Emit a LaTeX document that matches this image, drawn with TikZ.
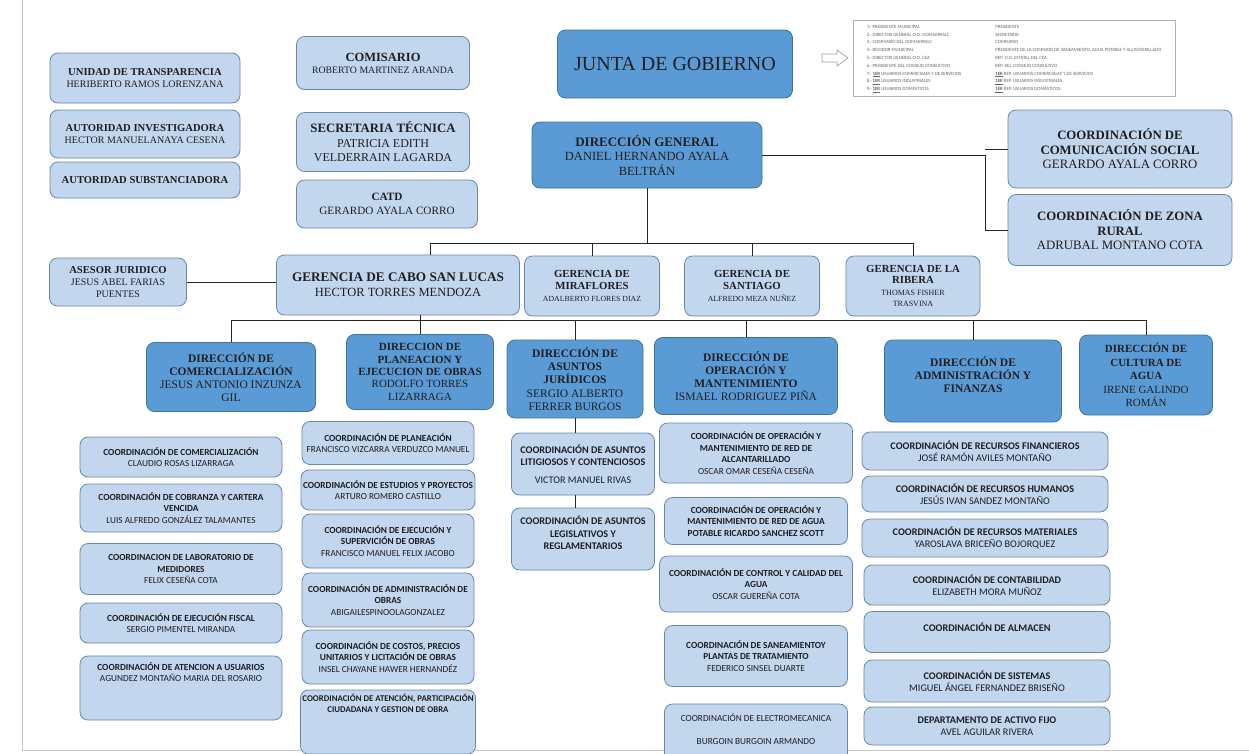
\documentclass[tikz,border=0pt]{standalone}
\usepackage{fontspec}
\setmainfont{Liberation Serif}
\newfontfamily\calib{Carlito}
\definecolor{lightfill}{RGB}{194,214,238}
\definecolor{lightline}{RGB}{105,135,172}
\definecolor{darkfill}{RGB}{91,155,213}
\definecolor{darkline}{RGB}{65,113,156}
\definecolor{ink}{RGB}{30,30,35}
\tikzset{
  lbox/.style={draw=lightline, fill=lightfill, rounded corners=8pt, align=center, inner sep=2pt, line width=0.8pt, text=ink},
  dbox/.style={draw=darkline, fill=darkfill, rounded corners=8pt, align=center, inner sep=2pt, line width=0.8pt, text=ink},
  cbox/.style={lbox, font=\calib\fontsize{9.3}{11.5}\selectfont},
  cboxb/.style={lbox, font=\calib\fontsize{10.2}{12.3}\selectfont},
  link/.style={draw=black!85, line width=0.9pt}
}
\newcommand{\fs}[2]{\fontsize{#1}{#2}\selectfont}
\begin{document}
\begin{tikzpicture}[x=1pt, y=-1pt]
    \useasboundingbox (0,0) rectangle (1249,753);
    \clip (0,0) rectangle (1249,753);
    \fill[white] (0,0) rectangle (1249,753);
    \draw[gray!45, line width=0.8pt] (22,0) -- (22,750) -- (1249,750);

    \node[lbox, minimum width=190pt, minimum height=50pt, font=\fs{10}{12}] (transp) at (145,78) {{\fs{10.6}{12}\textbf{UNIDAD DE TRANSPARENCIA}}\\HERIBERTO RAMOS LORENZANA};
    \node[lbox, minimum width=190pt, minimum height=48pt, font=\fs{10}{12}] (invest) at (145,134) {{\fs{10.6}{12}\textbf{AUTORIDAD INVESTIGADORA}}\\HECTOR MANUELANAYA CESENA};
    \node[lbox, minimum width=190pt, minimum height=36pt, font=\fs{10.6}{12}] (subst) at (145,180) {\textbf{AUTORIDAD SUBSTANCIADORA}};

    \node[lbox, minimum width=173pt, minimum height=53pt, font=\fs{9.8}{12}] (comis) at (383,63) {{\fs{12.5}{14}\textbf{COMISARIO}}\\ROBERTO MARTINEZ ARANDA};
    \node[lbox, minimum width=173pt, minimum height=59pt, font=\fs{12}{14.5}] (secre) at (383,142) {{\fs{12.8}{14.5}\textbf{SECRETARIA TÉCNICA}}\\PATRICIA EDITH\\VELDERRAIN LAGARDA};
    \node[lbox, minimum width=181pt, minimum height=48pt, font=\fs{11.2}{14}] (catd) at (387,204) {\textbf{CATD}\\GERARDO AYALA CORRO};

    \node[dbox, minimum width=235pt, minimum height=68pt, font=\fs{20}{24}] (junta) at (675,64) {JUNTA DE GOBIERNO};
    \draw[gray!75, fill=white, line width=0.7pt] (822,54) -- (837,54) -- (837,50) -- (848,58) -- (837,66) -- (837,62) -- (822,62) -- cycle;
    \node[draw=gray!60, fill=white, minimum width=322pt, minimum height=76pt, inner sep=3pt, text=gray!80!black, font=\calib\fs{4.8}{7.8}] (leyenda) at (1014,58) {%
      \begin{tabular}{@{}l@{\hspace{34pt}}l@{}}
      1.- PRESIDENTE MUNICIPAL & PRESIDENTE\\
      2.- DIRECTOR GENERAL O.O. OOMSAPASLC & SECRETARIO\\
      3.- COMISARIO DEL OOMSAPASLC & COMISARIO\\
      4.- REGIDOR MUNICIPAL & PRESIDENTE DE LA COMISION DE SANEAMIENTO, AGUA POTABLE Y ALCANTARILLADO\\
      5.- DIRECTOR GENERAL O.O. CEA & REP. O.O. ESTATAL DEL CEA\\
      6.- PRESIDENTE DEL CONSEJO CONSULTIVO & REP. DEL CONSEJO CONSULTIVO\\
      7.- \underline{\textbf{1ER}} USUARIOS COMERCIALES Y DE SERVICIOS & \underline{\textbf{1ER}} REP. USUARIOS COMERCIALES Y DE SERVICIOS\\
      8.- \underline{\textbf{1ER}} USUARIOS INDUSTRIALES & \underline{\textbf{1ER}} REP. USUARIOS INDUSTRIALES\\
      9.- \underline{\textbf{1ER}} USUARIOS DOMESTICOS & \underline{\textbf{1ER}} REP. USUARIOS DOMESTICOS
      \end{tabular}};

    \node[dbox, minimum width=230pt, minimum height=66pt, font=\fs{12.5}{14.5}] (dg) at (647,155) {{\fs{13}{14.5}\textbf{DIRECCIÓN GENERAL}}\\DANIEL HERNANDO AYALA\\BELTRÁN};
    \node[lbox, minimum width=224pt, minimum height=78pt, font=\fs{12.8}{14.5}] (comun) at (1120,149) {\textbf{COORDINACIÓN DE}\\\textbf{COMUNICACIÓN SOCIAL}\\GERARDO AYALA CORRO};
    \node[lbox, minimum width=224pt, minimum height=71pt, font=\fs{12.8}{14.5}] (zona) at (1120,230) {\textbf{COORDINACIÓN DE ZONA}\\\textbf{RURAL}\\ADRUBAL MONTANO COTA};

    \node[lbox, minimum width=137pt, minimum height=48pt, font=\fs{10}{11.8}] (asesor) at (118,282) {{\fs{10.6}{11.8}\textbf{ASESOR JURIDICO}}\\JESUS ABEL FARIAS\\PUENTES};
    \node[lbox, minimum width=243pt, minimum height=60pt, font=\fs{12.5}{15}] (cabo) at (398,285) {{\fs{13.2}{15}\textbf{GERENCIA DE CABO SAN LUCAS}}\\HECTOR TORRES MENDOZA};
    \node[lbox, minimum width=135pt, minimum height=60pt, font=\fs{10.8}{12}] (mira) at (592,286) {\textbf{GERENCIA DE}\\\textbf{MIRAFLORES}\\{\fs{7.8}{12}ADALBERTO FLORES DIAZ}};
    \node[lbox, minimum width=135pt, minimum height=60pt, font=\fs{10.8}{12}] (santi) at (752,286) {\textbf{GERENCIA DE}\\\textbf{SANTIAGO}\\{\fs{7.8}{12}ALFREDO MEZA NUÑEZ}};
    \node[lbox, minimum width=134pt, minimum height=60pt, font=\fs{10.8}{11.3}] (ribera) at (913,286) {\textbf{GERENCIA DE LA}\\\textbf{RIBERA}\\{\fs{8}{11.3}THOMAS FISHER}\\{\fs{8}{11.3}TRASVINA}};

    \node[dbox, minimum width=169pt, minimum height=69pt, font=\fs{11.5}{13}] (dcom) at (231,377) {\textbf{DIRECCIÓN DE}\\\textbf{COMERCIALIZACIÓN}\\JESUS ANTONIO INZUNZA\\GIL};
    \node[dbox, minimum width=147pt, minimum height=75pt, font=\fs{11}{12.3}] (dpla) at (420,372) {\textbf{DIRECCION DE}\\\textbf{PLANEACION Y}\\\textbf{EJECUCION DE OBRAS}\\RODOLFO TORRES\\LIZARRAGA};
    \node[dbox, minimum width=136pt, minimum height=78pt, font=\fs{11.5}{13.2}] (djur) at (575,379) {\textbf{DIRECCIÓN DE}\\\textbf{ASUNTOS}\\\textbf{JURÍDICOS}\\SERGIO ALBERTO\\FERRER BURGOS};
    \node[dbox, minimum width=183pt, minimum height=77pt, font=\fs{11.5}{13}] (dope) at (746,376) {\textbf{DIRECCIÓN DE}\\\textbf{OPERACIÓN Y}\\\textbf{MANTENIMIENTO}\\ISMAEL RODRIGUEZ PIÑA};
    \node[dbox, minimum width=177pt, minimum height=82pt, font=\fs{11.5}{13}] (dadm) at (973,381) {\textbf{DIRECCIÓN DE}\\\textbf{ADMINISTRACIÓN Y}\\\textbf{FINANZAS}\\[0pt]\mbox{}};
    \node[dbox, minimum width=133pt, minimum height=80pt, font=\fs{11}{13.5}] (dcul) at (1146,375) {\textbf{DIRECCIÓN DE}\\\textbf{CULTURA DE}\\\textbf{AGUA}\\IRENE GALINDO\\ROMÁN};

    \node[cbox, minimum width=202pt, minimum height=40pt] (c11) at (181,457) {\textbf{COORDINACIÓN DE COMERCIALIZACIÓN}\\CLAUDIO ROSAS LIZARRAGA};
    \node[cbox, minimum width=202pt, minimum height=48pt] (c12) at (181,508) {\textbf{COORDINACIÓN DE COBRANZA Y CARTERA}\\\textbf{VENCIDA}\\LUIS ALFREDO GONZÁLEZ TALAMANTES};
    \node[cbox, minimum width=202pt, minimum height=51pt] (c13) at (181,569) {\textbf{COORDINACION DE LABORATORIO DE}\\\textbf{MEDIDORES}\\FELIX CESEÑA COTA};
    \node[cbox, minimum width=202pt, minimum height=40pt] (c14) at (181,623) {\textbf{COORDINACIÓN DE EJECUCIÓN FISCAL}\\SERGIO PIMENTEL MIRANDA};
    \node[cbox, minimum width=202pt, minimum height=64pt] (c15) at (181,688) {\textbf{COORDINACIÓN DE ATENCION A USUARIOS}\\AGUNDEZ MONTAÑO MARIA DEL ROSARIO\\[20pt]\mbox{}};

    \node[cbox, minimum width=172pt, minimum height=43pt] (c21) at (388,443) {\textbf{COORDINACIÓN DE PLANEACIÓN}\\FRANCISCO VIZCARRA VERDUZCO MANUEL};
    \node[cbox, minimum width=172pt, minimum height=40pt] (c22) at (388,490) {\textbf{COORDINACIÓN DE ESTUDIOS Y PROYECTOS}\\ARTURO ROMERO CASTILLO};
    \node[cbox, minimum width=172pt, minimum height=54pt] (c23) at (388,541) {\textbf{COORDINACIÓN DE EJECUCIÓN Y}\\\textbf{SUPERVICIÓN DE OBRAS}\\FRANCISCO MANUEL FELIX JACOBO};
    \node[cbox, minimum width=172pt, minimum height=54pt] (c24) at (388,600) {\textbf{COORDINACIÓN DE ADMINISTRACIÓN DE}\\\textbf{OBRAS}\\ABIGAILESPINOOLAGONZALEZ};
    \node[cbox, minimum width=172pt, minimum height=54pt] (c25) at (388,657) {\textbf{COORDINACIÓN DE COSTOS, PRECIOS}\\\textbf{UNITARIOS Y LICITACIÓN DE OBRAS}\\INSEL CHAYANE HAWER HERNANDÉZ};
    \node[cbox, minimum width=172pt, minimum height=64pt, font=\calib\fs{8.8}{11.5}] (c26) at (388,722) {\textbf{COORDINACIÓN DE ATENCIÓN, PARTICIPACIÓN}\\\textbf{CIUDADANA Y GESTION DE OBRA}\\[26pt]\mbox{}};

    \node[cboxb, minimum width=143pt, minimum height=62pt] (c31) at (583,464) {\textbf{COORDINACIÓN DE ASUNTOS}\\\textbf{LITIGIOSOS Y CONTENCIOSOS}\\[5pt]VICTOR MANUEL RIVAS};
    \node[cboxb, minimum width=143pt, minimum height=62pt] (c32) at (583,539) {\textbf{COORDINACIÓN DE ASUNTOS}\\\textbf{LEGISLATIVOS Y}\\\textbf{REGLAMENTARIOS}\\[0pt]\mbox{}};

    \node[cbox, minimum width=193pt, minimum height=60pt] (c41) at (756,453) {\textbf{COORDINACIÓN DE OPERACIÓN Y}\\\textbf{MANTENIMIENTO DE RED DE}\\\textbf{ALCANTARILLADO}\\OSCAR OMAR CESEÑA CESEÑA};
    \node[cbox, minimum width=183pt, minimum height=47pt] (c42) at (756,521) {\textbf{COORDINACIÓN DE OPERACIÓN Y}\\\textbf{MANTENIMIENTO DE RED DE AGUA}\\\textbf{POTABLE RICARDO SANCHEZ SCOTT}};
    \node[cbox, minimum width=193pt, minimum height=56pt] (c43) at (756,584) {\textbf{COORDINACIÓN DE CONTROL Y CALIDAD DEL}\\\textbf{AGUA}\\OSCAR GUEREÑA COTA};
    \node[cbox, minimum width=183pt, minimum height=61pt] (c44) at (756,656) {\textbf{COORDINACIÓN DE SANEAMIENTOY}\\\textbf{PLANTAS DE TRATAMIENTO}\\FEDERICO SINSEL DUARTE};
    \node[cbox, minimum width=183pt, minimum height=60pt] (c45) at (756,734) {COORDINACIÓN DE ELECTROMECANICA\\[12pt]BURGOIN BURGOIN ARMANDO\\[-2pt]\mbox{}};

    \node[cboxb, minimum width=246pt, minimum height=38pt] (c51) at (985,451) {\textbf{COORDINACIÓN DE RECURSOS FINANCIEROS}\\JOSÉ RAMÓN AVILES MONTAÑO};
    \node[cboxb, minimum width=246pt, minimum height=36pt] (c52) at (985,494) {\textbf{COORDINACIÓN DE RECURSOS HUMANOS}\\JESÚS IVAN SANDEZ MONTAÑO};
    \node[cboxb, minimum width=246pt, minimum height=38pt] (c53) at (985,538) {\textbf{COORDINACIÓN DE RECURSOS MATERIALES}\\YAROSLAVA BRICEÑO BOJORQUEZ};
    \node[cboxb, minimum width=246pt, minimum height=40pt] (c54) at (987,585) {\textbf{COORDINACIÓN DE CONTABILIDAD}\\ELIZABETH MORA MUÑOZ};
    \node[cboxb, minimum width=246pt, minimum height=41pt] (c55) at (987,632) {\textbf{COORDINACIÓN DE ALMACEN}\\[-2pt]\mbox{}};
    \node[cboxb, minimum width=246pt, minimum height=42pt] (c56) at (987,681) {\textbf{COORDINACIÓN DE SISTEMAS}\\MIGUEL ÁNGEL FERNANDEZ BRISEÑO};
    \node[cboxb, minimum width=246pt, minimum height=38pt] (c57) at (987,726) {\textbf{DEPARTAMENTO DE ACTIVO FIJO}\\AVEL AGUILAR RIVERA};

    \coordinate (busA) at (647,243);
    \coordinate (busB) at (420,320);
    \coordinate (busR) at (985,150);
    \draw[link] (dg.south) -- (busA);
    \draw[link] ([xshift=32pt]cabo.north |- busA) -- (ribera.north |- busA);
    \draw[link] ([xshift=32pt]cabo.north |- busA) -- ([xshift=32pt]cabo.north);
    \foreach \g in {mira,santi,ribera}
        \draw[link] (\g.north |- busA) -- (\g.north);
    \draw[link] (dg.east) -- (dg.east -| busR) |- (zona.west);
    \draw[link] (busR |- comun.west) -- (comun.west);
    \draw[link] (asesor.east) -- (cabo.west |- asesor.east);
    \draw[link] (busB |- cabo.south) -- (busB);
    \draw[link] (dcom.north |- busB) -- (dcul.north |- busB);
    \foreach \d in {dcom,dpla,djur,dope,dadm,dcul}
        \draw[link] (\d.north |- busB) -- (\d.north);
    \draw[link] (djur.south) -- (djur.south |- c31.north);
    \draw[link] (djur.south |- c31.south) -- (djur.south |- c32.north);
\end{tikzpicture}
\end{document}
